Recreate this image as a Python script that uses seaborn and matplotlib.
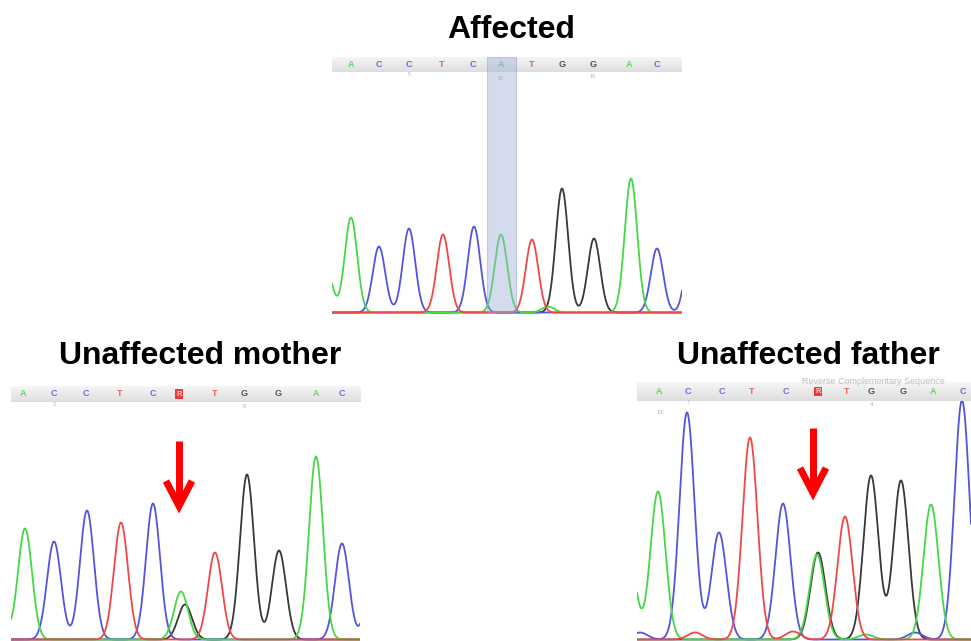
import numpy as np
import pandas as pd
import matplotlib
matplotlib.use("Agg")
import matplotlib.pyplot as plt
import seaborn as sns

# ---------------- data ----------------
titles = ["Affected", "Unaffected mother", "Unaffected father"]

# Affected trace: channel, scan position, peak height
aff_channel = ['A', 'A', 'C', 'C', 'T', 'C', 'A', 'T', 'G', 'G', 'A', 'C', 'C', 'A']
aff_pos     = [-6, 19, 47, 77, 111, 142, 169, 200, 230, 262, 299, 325, 360, 216]
aff_height  = [45, 95, 66, 84, 78, 86, 78, 73, 124, 74, 134, 64, 80, 6]
aff_calls     = ['A', 'C', 'C', 'T', 'C', 'A', 'T', 'G', 'G', 'A', 'C']
aff_calls_pos = [19, 47, 77, 110, 141, 169, 200, 230, 261, 297, 325]

# Mother trace
mom_channel = ['A', 'A', 'C', 'C', 'T', 'C', 'A', 'G', 'T', 'G', 'G', 'A', 'C', 'C']
mom_pos     = [-14, 14, 43, 76, 110, 142, 170, 174, 204, 236, 268, 305, 331, 363]
mom_height  = [40, 111, 98, 129, 117, 136, 48, 35, 87, 165, 89, 183, 96, 90]
mom_calls     = ['A', 'C', 'C', 'T', 'C', 'R', 'T', 'G', 'G', 'A', 'C']
mom_calls_pos = [12, 43, 75, 109, 142, 168, 204, 233, 267, 305, 331]

# Father trace
dad_channel = ['A', 'A', 'C', 'C', 'T', 'C', 'A', 'G', 'T', 'G', 'G', 'A', 'C',
               'C', 'T', 'T', 'A', 'C']
dad_pos     = [-9, 21, 50, 82, 113, 146, 180, 181, 208, 234, 264, 294, 325,
               3, 58, 156, 229, 278]
dad_height  = [90, 148, 227, 107, 202, 136, 85, 87, 123, 164, 159, 135, 239,
               7, 7, 8, 5, 7]
dad_calls     = ['A', 'C', 'C', 'T', 'C', 'R', 'T', 'G', 'G', 'A', 'C']
dad_calls_pos = [22, 51, 85, 115, 149, 181, 210, 234, 266, 296, 326]

base_colors = {'A': '#45d845', 'C': '#5454dc', 'G': '#383838', 'T': '#f04848'}

# ---------------- figure ----------------
W, H = 971, 641
sns.set_style("white")
plt.rcParams['font.family'] = ['Liberation Sans', 'DejaVu Sans']
fig = plt.figure(figsize=(W / 100, H / 100), dpi=100)


def rect(x0, y0, x1, y1):
    return [x0 / W, 1 - y1 / H, (x1 - x0) / W, (y1 - y0) / H]


def trace_frame(channel, pos, height, width, sigma):
    x = np.linspace(-5, width + 5, 1600)
    rows = []
    for b in ['A', 'C', 'G', 'T']:
        y = np.zeros_like(x)
        for c, p, h in zip(channel, pos, height):
            if c == b:
                y += h * np.exp(-((x - p) ** 2) / (2 * sigma ** 2))
        rows.append(pd.DataFrame({'x': x, 'signal': y, 'base': b}))
    return pd.concat(rows, ignore_index=True)


def draw_panel(chrom_box, head_box, channel, pos, height, calls, calls_pos, sigma):
    x0, y0, x1, y1 = chrom_box
    width = x1 - x0
    ax = fig.add_axes(rect(*chrom_box))
    df = trace_frame(channel, pos, height, width, sigma)
    sns.lineplot(data=df, x='x', y='signal', hue='base', palette=base_colors,
                 hue_order=['G', 'C', 'A', 'T'], estimator=None, legend=False,
                 linewidth=1.3, ax=ax)
    ax.set_xlim(0, width)
    ax.set_ylim(-1.5, (y1 - y0) - 1.5)
    ax.set_axis_off()

    hax = fig.add_axes(rect(*head_box))
    grad = np.linspace(0, 1, 50).reshape(-1, 1)
    hax.imshow(grad, aspect='auto', cmap=matplotlib.colors.LinearSegmentedColormap.from_list(
        'g', ['#f6f6f6', '#dedede']), extent=[0, width, 0, 1], origin='upper')
    hax.axhline(0.02, color='#c8c8c8', lw=0.8)
    hax.set_xlim(0, width)
    hax.set_ylim(0, 1)
    hax.set_axis_off()
    for c, p in zip(calls, calls_pos):
        if c == 'R':
            hax.text(p, 0.5, 'R', color='#ffd0d0', fontsize=5.5, fontweight='bold',
                     ha='center', va='center',
                     bbox=dict(boxstyle='square,pad=0.15', fc='#ee3a3a', ec='none'))
        else:
            hax.text(p, 0.5, c, color=base_colors[c], fontsize=6.5, fontweight='bold',
                     ha='center', va='center', alpha=0.85)
    return ax, hax


# Affected
draw_panel((332, 72, 682, 314), (332, 57, 682, 72),
           aff_channel, aff_pos, aff_height, aff_calls, aff_calls_pos, 6.2)

# overlay in pixel coordinates
ov = fig.add_axes([0, 0, 1, 1], zorder=10)
ov.set_xlim(0, W)
ov.set_ylim(H, 0)
ov.set_axis_off()
ov.patch.set_alpha(0)
ov.add_patch(plt.Rectangle((487, 57), 29, 255, fc='#9eb0d8', ec='#8a9cc8',
                           lw=0.8, alpha=0.45))

# small index numbers under the base-call bar
for xx, yy, t in [(409, 75, '5'), (501, 79, '10'), (593, 76, '15'), (54, 404, '2'),
                  (244, 406, '8'), (688, 403, '7'), (871, 404, '4'), (660, 412, '13/')]:
    ov.text(xx, yy, t, fontsize=4, color='#b0b0b0', ha='center', va='center')

# Mother
draw_panel((11, 402, 360, 641), (11, 386, 360, 402),
           mom_channel, mom_pos, mom_height, mom_calls, mom_calls_pos, 7.0)
# Father
draw_panel((637, 401, 971, 641), (637, 382, 971, 401),
           dad_channel, dad_pos, dad_height, dad_calls, dad_calls_pos, 7.5)
ov.text(873, 381, 'Reverse Complementary Sequence', fontsize=6.5, color='#c0c0c0',
        ha='center', va='center', clip_on=True)

# titles
for (tx, ty), t in zip([(511, 30), (200, 356), (808, 356)], titles):
    fig.text(tx / W, 1 - ty / H, t, fontsize=23, fontweight='bold', color='black',
             ha='center', va='center')

# arrows
for (ax_x, top, tip, hw) in [(179, 441, 506, 13), (813, 428, 493, 13)]:
    ov.plot([ax_x, ax_x], [top, tip - 3], color='#ff0000', lw=5,
            solid_capstyle='butt')
    ov.plot([ax_x - hw, ax_x, ax_x + hw], [tip - 25, tip, tip - 25],
            color='#ff0000', lw=5, solid_joinstyle='miter', solid_capstyle='butt')

fig.savefig('out.png', dpi=100)
